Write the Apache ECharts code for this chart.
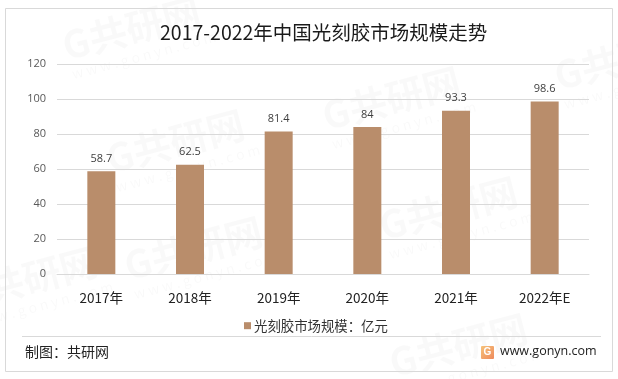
<!DOCTYPE html>
<html><head><meta charset="utf-8">
<style>html,body{margin:0;padding:0;background:#fff}#c{width:618px;height:379px}</style>
<script src="https://cdn.jsdelivr.net/npm/echarts@6/dist/echarts.min.js"></script>
</head><body><div id="c"></div>
<script>
const categories = ['2017年','2018年','2019年','2020年','2021年','2022年E'];
const values = [58.7,62.5,81.4,84,93.3,98.6];
const seriesName = '光刻胶市场规模：亿元';
const titleText = '2017-2022年中国光刻胶市场规模走势';
const FONT = '"Noto Sans CJK SC","Open Sans",sans-serif';
const wmSpots = [[68,65],[112,178],[130,285],[328,135],[385,245],[560,95],[-35,315],[395,382]];
const wm = [];
wmSpots.forEach(([x,y])=>{
  wm.push({type:'text',x,y,rotation:0.26,silent:true,z:0,
    style:{text:'G共研网',font:'bold 38px '+FONT,fill:'rgba(0,0,0,0.022)',verticalAlign:'bottom'}});
  wm.push({type:'text',x:x+6,y:y+16,rotation:0.26,silent:true,z:0,
    style:{text:'w w w . g o n y n . c o m',font:'14px '+FONT,fill:'rgba(0,0,0,0.025)',verticalAlign:'bottom'}});
});
const chart = echarts.init(document.getElementById('c'),null,{renderer:'canvas'});
chart.setOption({
  animation:false,
  backgroundColor:'#fff',
  title:{text:titleText,left:160,top:23,padding:0,itemGap:0,
    textStyle:{fontFamily:FONT,fontSize:19.5,fontWeight:'normal',color:'#1a1a1a'}},
  legend:{top:314,left:239,itemWidth:7,itemHeight:7,itemGap:4,icon:'rect',
    textStyle:{fontFamily:FONT,fontSize:13.4,color:'#333',padding:[0,0,0,-2]}},
  grid:{left:57,right:29,top:64,bottom:105,containLabel:false},
  xAxis:{type:'category',data:categories,
    axisLine:{lineStyle:{color:'#d9d9d9',width:1}},axisTick:{show:false},
    axisLabel:{fontFamily:FONT,fontSize:13.5,color:'#222',margin:17}},
  yAxis:{type:'value',min:0,max:120,interval:20,
    axisLine:{show:false},axisTick:{show:false},
    splitLine:{lineStyle:{color:'#d9d9d9',width:1}},
    axisLabel:{fontFamily:'"Open Sans",sans-serif',fontSize:11,color:'#595959',margin:11}},
  series:[{name:seriesName,type:'bar',data:values,barWidth:28,
    itemStyle:{color:'#b98d6b'},
    label:{show:true,position:'top',distance:7,fontFamily:'"Open Sans",sans-serif',fontSize:11,color:'#404040'}}],
  graphic:{elements:[
    ...wm,
    {type:'rect',shape:{x:5.5,y:8.5,width:607,height:363},silent:true,z:1,
      style:{fill:'none',stroke:'#d9d9d9',lineWidth:1}},
    {type:'line',shape:{x1:22,y1:336.5,x2:601,y2:336.5},silent:true,z:1,
      style:{stroke:'#d9d9d9',lineWidth:1}},
    {type:'text',x:25,y:345,z:2,silent:true,
      style:{text:'制图：共研网',font:'14px '+FONT,fill:'#222'}},
    {type:'rect',shape:{x:481,y:346,width:13,height:13,r:1},z:2,silent:true,
      style:{fill:new echarts.graphic.LinearGradient(0,0,1,1,[{offset:0,color:'#f6c27a'},{offset:1,color:'#ee8a5c'}])}},
    {type:'text',x:487.5,y:347,z:3,silent:true,
      style:{text:'G',font:'bold 10px sans-serif',fill:'#fff',align:'center'}},
    {type:'text',x:500,y:345,z:2,silent:true,
      style:{text:'www.gonyn.com',font:'12.5px "Open Sans",sans-serif',fill:'#222'}}
  ]}
});
</script></body></html>
